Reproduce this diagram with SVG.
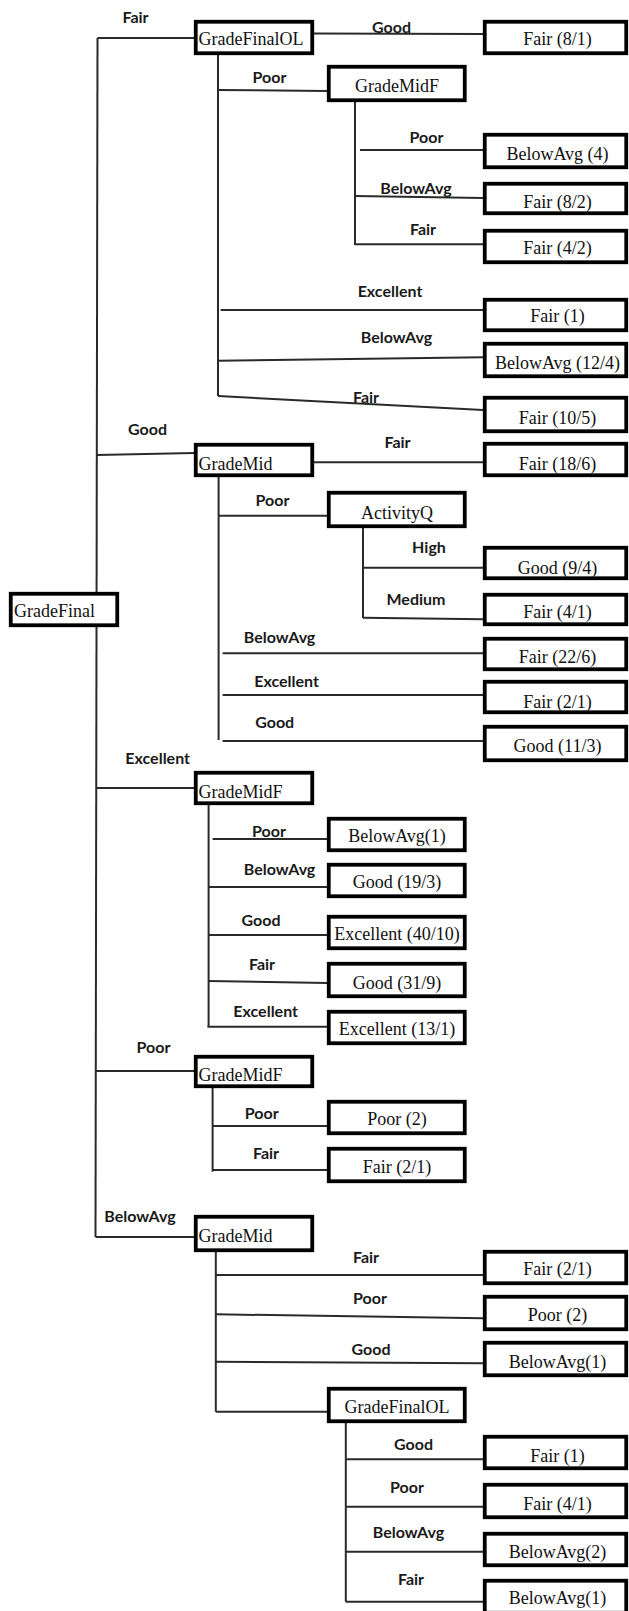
<svg xmlns="http://www.w3.org/2000/svg" width="629" height="1611" viewBox="0 0 629 1611">
<style>
.box{fill:#fff;stroke:#000;stroke-width:3.8}
.nt{font-family:"Liberation Serif","Times New Roman",serif;font-size:18px;fill:#111}
.c{text-anchor:middle}
.el{font-family:Lato,"Liberation Sans",Arial,sans-serif;font-size:16px;font-weight:bold;fill:#1a1a1a;text-anchor:middle}
.ln{stroke:#2a2a2a;stroke-width:2;fill:none}
</style>
<rect width="629" height="1611" fill="#fff"/>
<g id="connectors">
<line class="ln" x1="97.5" y1="38" x2="95.5" y2="1237"/>
<line class="ln" x1="97.5" y1="38" x2="194" y2="38"/>
<line class="ln" x1="97" y1="455" x2="194" y2="453"/>
<line class="ln" x1="97" y1="788" x2="194" y2="788"/>
<line class="ln" x1="96" y1="1071" x2="194" y2="1071"/>
<line class="ln" x1="95.5" y1="1237" x2="194" y2="1237"/>
<line class="ln" x1="314" y1="33.5" x2="483" y2="34"/>
<line class="ln" x1="218" y1="55" x2="218" y2="396"/>
<line class="ln" x1="217" y1="90" x2="327" y2="91"/>
<line class="ln" x1="220.6" y1="310" x2="483" y2="310"/>
<line class="ln" x1="218" y1="360.7" x2="483" y2="357.3"/>
<line class="ln" x1="218" y1="396" x2="483" y2="410"/>
<line class="ln" x1="355" y1="102" x2="355" y2="245"/>
<line class="ln" x1="360" y1="150" x2="483" y2="150"/>
<line class="ln" x1="355" y1="196" x2="483" y2="198"/>
<line class="ln" x1="355" y1="244.3" x2="483" y2="244.3"/>
<line class="ln" x1="314" y1="462.3" x2="483" y2="462.3"/>
<line class="ln" x1="218.6" y1="477" x2="218.6" y2="740"/>
<line class="ln" x1="218" y1="515.7" x2="327" y2="515.7"/>
<line class="ln" x1="222.6" y1="653.3" x2="483" y2="653.3"/>
<line class="ln" x1="222.6" y1="695" x2="483" y2="695"/>
<line class="ln" x1="222.6" y1="741" x2="483" y2="741"/>
<line class="ln" x1="363" y1="528" x2="363" y2="618"/>
<line class="ln" x1="363" y1="567.7" x2="483" y2="567.7"/>
<line class="ln" x1="363" y1="617.7" x2="483" y2="619.3"/>
<line class="ln" x1="208.6" y1="805" x2="208.6" y2="1026.7"/>
<line class="ln" x1="212.6" y1="839" x2="327" y2="839"/>
<line class="ln" x1="208.6" y1="887" x2="327" y2="887"/>
<line class="ln" x1="208.6" y1="935" x2="327" y2="935"/>
<line class="ln" x1="208.6" y1="981" x2="327" y2="983"/>
<line class="ln" x1="207.4" y1="1026.7" x2="327" y2="1026.7"/>
<line class="ln" x1="212.6" y1="1088" x2="212.6" y2="1171.7"/>
<line class="ln" x1="212.6" y1="1126" x2="327" y2="1126"/>
<line class="ln" x1="212.6" y1="1170" x2="327" y2="1170"/>
<line class="ln" x1="215.8" y1="1252" x2="215.8" y2="1411.7"/>
<line class="ln" x1="215.8" y1="1275" x2="483" y2="1275"/>
<line class="ln" x1="215.8" y1="1314.3" x2="483" y2="1318.3"/>
<line class="ln" x1="215.8" y1="1361.7" x2="483" y2="1363.3"/>
<line class="ln" x1="215.8" y1="1411.7" x2="327" y2="1411.7"/>
<line class="ln" x1="345.8" y1="1423" x2="345.8" y2="1601.7"/>
<line class="ln" x1="345.8" y1="1459.3" x2="483" y2="1459.3"/>
<line class="ln" x1="345.8" y1="1506.7" x2="483" y2="1506.7"/>
<line class="ln" x1="345.8" y1="1551.7" x2="483" y2="1551.7"/>
<line class="ln" x1="345.8" y1="1601.7" x2="483" y2="1601.7"/>
</g>
<g id="edge-labels">
<text class="el" x="135.5" y="23.3">Fair</text>
<text class="el" x="391.5" y="33">Good</text>
<text class="el" x="269.5" y="83">Poor</text>
<text class="el" x="426.5" y="143">Poor</text>
<text class="el" x="416" y="193.5">BelowAvg</text>
<text class="el" x="423" y="235">Fair</text>
<text class="el" x="390" y="297">Excellent</text>
<text class="el" x="396.5" y="343">BelowAvg</text>
<text class="el" x="366" y="403">Fair</text>
<text class="el" x="147.6" y="435">Good</text>
<text class="el" x="397.5" y="448">Fair</text>
<text class="el" x="272.5" y="506">Poor</text>
<text class="el" x="429" y="552.5">High</text>
<text class="el" x="416" y="605">Medium</text>
<text class="el" x="279.6" y="643">BelowAvg</text>
<text class="el" x="286.6" y="686.7">Excellent</text>
<text class="el" x="274.7" y="728.3">Good</text>
<text class="el" x="157.7" y="764">Excellent</text>
<text class="el" x="269" y="837">Poor</text>
<text class="el" x="279.6" y="875">BelowAvg</text>
<text class="el" x="261" y="926">Good</text>
<text class="el" x="262" y="970">Fair</text>
<text class="el" x="265.7" y="1016.7">Excellent</text>
<text class="el" x="153.5" y="1053.3">Poor</text>
<text class="el" x="261.7" y="1119.3">Poor</text>
<text class="el" x="266" y="1159.3">Fair</text>
<text class="el" x="140" y="1222">BelowAvg</text>
<text class="el" x="366" y="1262.7">Fair</text>
<text class="el" x="370" y="1304">Poor</text>
<text class="el" x="371" y="1355">Good</text>
<text class="el" x="413.5" y="1450">Good</text>
<text class="el" x="407" y="1493">Poor</text>
<text class="el" x="408.5" y="1538">BelowAvg</text>
<text class="el" x="411" y="1585">Fair</text>
</g>
<g id="n-root"><rect class="box" x="10.75" y="593.75" width="106.5" height="31.5"/><text class="nt" x="14" y="617">GradeFinal</text></g>
<g id="n-gfol1"><rect class="box" x="195.75" y="21.75" width="116.5" height="31.5"/><text class="nt" x="198.5" y="45">GradeFinalOL</text></g>
<g id="n-l1"><rect class="box" x="484.75" y="21.75" width="141.5" height="31.5"/><text class="nt c" x="557.5" y="45">Fair (8/1)</text></g>
<g id="n-gmf1"><rect class="box" x="328.75" y="66.75" width="136" height="33.5"/><text class="nt c" x="397" y="92">GradeMidF</text></g>
<g id="n-l2"><rect class="box" x="484.75" y="134.75" width="141.5" height="32.5"/><text class="nt c" x="557.5" y="160">BelowAvg (4)</text></g>
<g id="n-l3"><rect class="box" x="484.75" y="183.75" width="141.5" height="29.5"/><text class="nt c" x="557.5" y="208">Fair (8/2)</text></g>
<g id="n-l4"><rect class="box" x="484.75" y="230.75" width="141.5" height="31.5"/><text class="nt c" x="557.5" y="254">Fair (4/2)</text></g>
<g id="n-l5"><rect class="box" x="484.75" y="299.75" width="141.5" height="30.5"/><text class="nt c" x="557.5" y="322">Fair (1)</text></g>
<g id="n-l6"><rect class="box" x="484.75" y="343.75" width="141.5" height="32.5"/><text class="nt c" x="557.5" y="369">BelowAvg (12/4)</text></g>
<g id="n-l7"><rect class="box" x="484.75" y="397.75" width="141.5" height="33.5"/><text class="nt c" x="557.5" y="424">Fair (10/5)</text></g>
<g id="n-gm1"><rect class="box" x="195.75" y="444.75" width="116.5" height="30.5"/><text class="nt" x="198.5" y="470">GradeMid</text></g>
<g id="n-l8"><rect class="box" x="484.75" y="443.75" width="141.5" height="31.5"/><text class="nt c" x="557.5" y="470">Fair (18/6)</text></g>
<g id="n-aq"><rect class="box" x="328.75" y="492.75" width="136" height="33.5"/><text class="nt c" x="397" y="519">ActivityQ</text></g>
<g id="n-l9"><rect class="box" x="484.75" y="547.75" width="141.5" height="30.5"/><text class="nt c" x="557.5" y="574">Good (9/4)</text></g>
<g id="n-l10"><rect class="box" x="484.75" y="594.75" width="141.5" height="29.5"/><text class="nt c" x="557.5" y="618">Fair (4/1)</text></g>
<g id="n-l11"><rect class="box" x="484.75" y="638.75" width="141.5" height="30.5"/><text class="nt c" x="557.5" y="663">Fair (22/6)</text></g>
<g id="n-l12"><rect class="box" x="484.75" y="681.75" width="141.5" height="30.5"/><text class="nt c" x="557.5" y="708">Fair (2/1)</text></g>
<g id="n-l13"><rect class="box" x="484.75" y="726.75" width="141.5" height="33.5"/><text class="nt c" x="557.5" y="752">Good (11/3)</text></g>
<g id="n-gmf2"><rect class="box" x="195.75" y="772.75" width="116.5" height="30.5"/><text class="nt" x="198.5" y="798">GradeMidF</text></g>
<g id="n-l14"><rect class="box" x="328.75" y="818.75" width="136" height="31.5"/><text class="nt c" x="397" y="842">BelowAvg(1)</text></g>
<g id="n-l15"><rect class="box" x="328.75" y="864.75" width="136" height="31.5"/><text class="nt c" x="397" y="888">Good (19/3)</text></g>
<g id="n-l16"><rect class="box" x="328.75" y="916.75" width="136" height="31.5"/><text class="nt c" x="397" y="940">Excellent (40/10)</text></g>
<g id="n-l17"><rect class="box" x="328.75" y="963.75" width="136" height="32.5"/><text class="nt c" x="397" y="989">Good (31/9)</text></g>
<g id="n-l18"><rect class="box" x="328.75" y="1011.75" width="136" height="31.5"/><text class="nt c" x="397" y="1035">Excellent (13/1)</text></g>
<g id="n-gmf3"><rect class="box" x="195.75" y="1056.75" width="116.5" height="29.5"/><text class="nt" x="198.5" y="1081">GradeMidF</text></g>
<g id="n-l19"><rect class="box" x="328.75" y="1101.75" width="136" height="31.5"/><text class="nt c" x="397" y="1125">Poor (2)</text></g>
<g id="n-l20"><rect class="box" x="328.75" y="1148.75" width="136" height="32.5"/><text class="nt c" x="397" y="1173">Fair (2/1)</text></g>
<g id="n-gm2"><rect class="box" x="195.75" y="1216.75" width="116.5" height="33.5"/><text class="nt" x="198.5" y="1242">GradeMid</text></g>
<g id="n-l21"><rect class="box" x="484.75" y="1251.75" width="141.5" height="31.5"/><text class="nt c" x="557.5" y="1275">Fair (2/1)</text></g>
<g id="n-l22"><rect class="box" x="484.75" y="1296.75" width="141.5" height="32.5"/><text class="nt c" x="557.5" y="1321">Poor (2)</text></g>
<g id="n-l23"><rect class="box" x="484.75" y="1342.75" width="141.5" height="32.5"/><text class="nt c" x="557.5" y="1368">BelowAvg(1)</text></g>
<g id="n-gfol2"><rect class="box" x="328.75" y="1388.75" width="136" height="32.5"/><text class="nt c" x="397" y="1413">GradeFinalOL</text></g>
<g id="n-l24"><rect class="box" x="484.75" y="1436.75" width="141.5" height="31.5"/><text class="nt c" x="557.5" y="1462">Fair (1)</text></g>
<g id="n-l25"><rect class="box" x="484.75" y="1484.75" width="141.5" height="32.5"/><text class="nt c" x="557.5" y="1510">Fair (4/1)</text></g>
<g id="n-l26"><rect class="box" x="484.75" y="1533.75" width="141.5" height="31.5"/><text class="nt c" x="557.5" y="1558">BelowAvg(2)</text></g>
<g id="n-l27"><rect class="box" x="484.75" y="1580.75" width="141.5" height="32"/><text class="nt c" x="557.5" y="1604">BelowAvg(1)</text></g>
</svg>
